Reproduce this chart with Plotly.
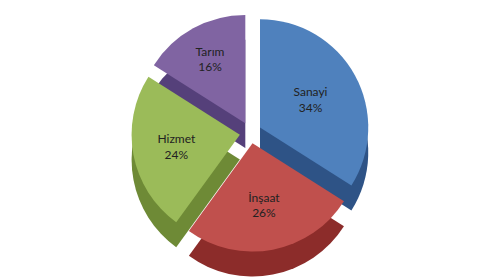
import plotly.graph_objects as go

labels = ["Sanayi", "İnşaat", "Hizmet", "Tarım"]
values = [34, 26, 24, 16]
top_colors = ["#4F81BD", "#C0504D", "#9BBB59", "#8064A2"]
side_colors = ["#2E5386", "#8C2C2A", "#6E8A36", "#55407A"]

pull = [0.1, 0.1, 0.1, 0.1]

fig = go.Figure()
# depth layer (darker, shifted down)
fig.add_trace(go.Pie(
    labels=labels, values=values, sort=False, direction="clockwise", rotation=0,
    pull=pull, marker=dict(colors=side_colors, line=dict(width=0)),
    textinfo="none", hoverinfo="skip", showlegend=False,
    domain=dict(x=[0, 1], y=[0.03, 0.89]),
))
# top surface
fig.add_trace(go.Pie(
    labels=labels, values=values, sort=False, direction="clockwise", rotation=0,
    pull=pull, marker=dict(colors=top_colors, line=dict(width=0)),
    textinfo="label+percent", texttemplate="%{label}<br>%{percent:.0%}",
    textposition="inside", insidetextorientation="horizontal",
    textfont=dict(family="Lato, Open Sans, sans-serif", size=12, color="#222222"),
    showlegend=False,
    domain=dict(x=[0, 1], y=[0.12, 0.98]),
))
fig.update_layout(
    width=485, height=277,
    margin=dict(l=0, r=0, t=0, b=0),
    paper_bgcolor="white", plot_bgcolor="white",
)
fig.write_html("out.html")
